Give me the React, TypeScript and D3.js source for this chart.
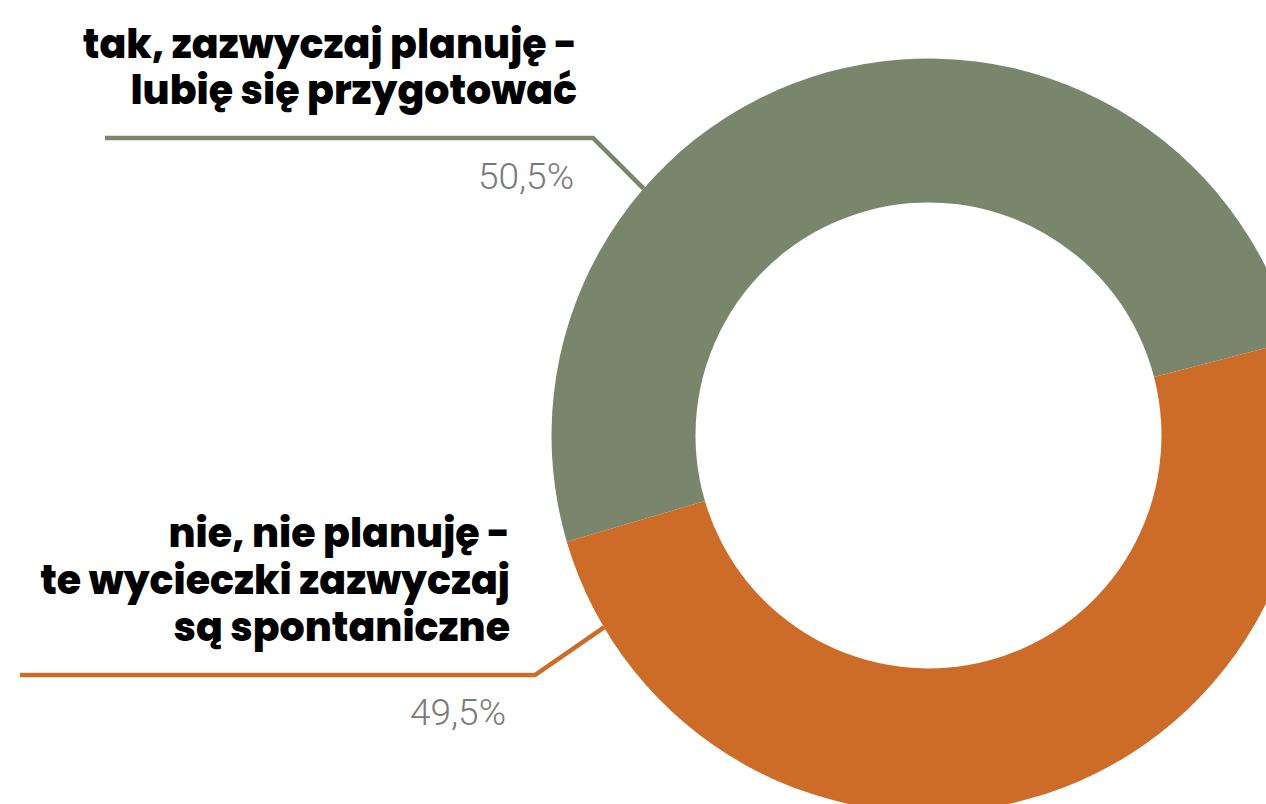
import React from "react";
import * as d3 from "d3";

const categories = ["tak, zazwyczaj planuję - lubię się przygotować", "nie, nie planuję - te wycieczki zazwyczaj są spontaniczne"];
const values = [50.5, 49.5];
const valueLabels = ["50,5%", "49,5%"];
const labelLines = [
  ["tak, zazwyczaj planuję -", "lubię się przygotować"],
  ["nie, nie planuję -", "te wycieczki zazwyczaj", "są spontaniczne"],
];
const colors = ["#79866b", "#cd6b29"];

const W = 1266;
const H = 804;
const cx = 928.5;
const cy = 435.5;
const outerR = 377;
const innerR = 233;
const startDeg = 253.65;

export default function App() {
  const pie = d3
    .pie<number>()
    .sort(null)
    .value((d) => d)
    .startAngle((startDeg * Math.PI) / 180)
    .endAngle((startDeg * Math.PI) / 180 + 2 * Math.PI);
  const arcs = pie(values);
  const arc = d3.arc<d3.PieArcDatum<number>>().innerRadius(innerR).outerRadius(outerR);

  const edge = (deg: number) => {
    const a = (deg * Math.PI) / 180;
    return [cx + outerR * Math.sin(a), cy - outerR * Math.cos(a)];
  };
  const gEnd = edge(310.9);
  const oEnd = edge(239.4);
  const line = d3.line();

  const labelFont = "Poppins, Inter, 'Open Sans', sans-serif";
  const fs = 39.5;

  return (
    <svg
      width={W}
      height={H}
      style={{ position: "fixed", left: 0, top: 0, background: "#fff" }}
    >
      <g transform={`translate(${cx},${cy})`}>
        {arcs.map((a, i) => (
          <path key={categories[i]} d={arc(a) || ""} fill={colors[i]} />
        ))}
      </g>

      <path
        d={line([[105, 138], [593, 138], [gEnd[0], gEnd[1]]]) || ""}
        fill="none"
        stroke={colors[0]}
        strokeWidth={4.5}
      />
      <path
        d={line([[20, 675], [535, 675], [oEnd[0], oEnd[1]]]) || ""}
        fill="none"
        stroke={colors[1]}
        strokeWidth={4.5}
      />

      {labelLines[0].map((t, i) => (
        <text
          key={t}
          x={577}
          y={57.5 + i * 46}
          textAnchor="end"
          fontFamily={labelFont}
          fontWeight={800}
          fontSize={fs}
          fill="#000"
        >
          {t}
        </text>
      ))}
      {labelLines[1].map((t, i) => (
        <text
          key={t}
          x={510}
          y={547 + i * 47}
          textAnchor="end"
          fontFamily={labelFont}
          fontWeight={800}
          fontSize={fs}
          fill="#000"
        >
          {t}
        </text>
      ))}

      <text
        x={574}
        y={189}
        textAnchor="end"
        fontFamily="Roboto, Inter, sans-serif"
        fontWeight={300}
        fontSize={37}
        fill="#7a7a7a"
      >
        {valueLabels[0]}
      </text>
      <text
        x={506}
        y={725}
        textAnchor="end"
        fontFamily="Roboto, Inter, sans-serif"
        fontWeight={300}
        fontSize={37}
        fill="#7a7a7a"
      >
        {valueLabels[1]}
      </text>
    </svg>
  );
}
